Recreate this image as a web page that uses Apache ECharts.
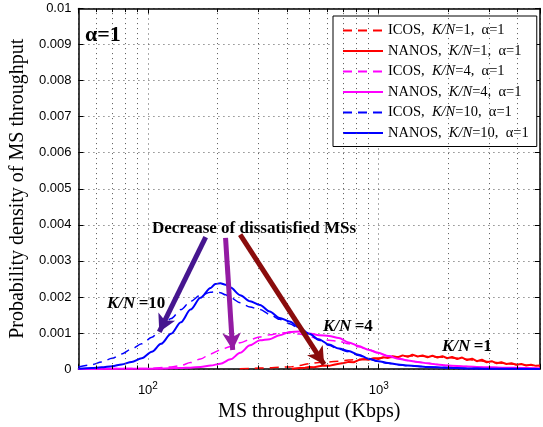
<!DOCTYPE html>
<html>
<head>
<meta charset="utf-8">
<script src="https://cdn.jsdelivr.net/npm/echarts@6/dist/echarts.min.js"></script>
<style>
  html, body { margin: 0; padding: 0; background: #fff; }
  #chart { width: 543px; height: 427px; }
</style>
</head>
<body>
<div id="chart"></div>
<script>
// Throughput samples (Kbps) and probability densities per scheme
const icos1X  = [250, 277, 306, 337, 372, 411, 453, 500, 552, 609, 672, 741, 818, 903, 996, 1099, 1213, 1338, 1476, 1628, 1797, 1982, 2188, 2415, 2661, 2937, 3243, 3578, 3946, 4355, 4808, 5000];
const icos1Y  = [0.00001, 0.00002, 0.00003, 0.00004, 0.00005, 0.00006, 0.0001, 0.00015, 0.00018, 0.0002, 0.00022, 0.00025, 0.00027, 0.00029, 0.00031, 0.00032, 0.00034, 0.00036, 0.00036, 0.00035, 0.00034, 0.00032, 0.0003, 0.00027, 0.00024, 0.00021, 0.00018, 0.00015, 0.00013, 0.00011, 0.0001, 0.00009];

const nanos1X = [420, 453, 480, 500, 525, 552, 580, 609, 640, 672, 705, 741, 780, 818, 860, 903, 950, 996, 1045, 1099, 1150, 1213, 1270, 1338, 1400, 1476, 1550, 1628, 1710, 1797, 1890, 1982, 2080, 2188, 2300, 2415, 2540, 2661, 2800, 2937, 3090, 3243, 3400, 3578, 3760, 3946, 4150, 4355, 4570, 4808, 5000];
const nanos1Y = [0.00001, 0.00003, 0.00004, 0.00006, 0.00005, 0.00008, 0.0001, 0.00009, 0.00012, 0.00015, 0.00017, 0.0002, 0.00019, 0.00025, 0.00027, 0.00026, 0.0003, 0.00028, 0.00033, 0.00031, 0.00036, 0.00033, 0.00038, 0.00034, 0.0004, 0.00035, 0.00038, 0.00033, 0.00037, 0.00032, 0.00036, 0.0003, 0.00034, 0.00028, 0.00032, 0.00025, 0.00029, 0.00022, 0.00026, 0.00019, 0.00022, 0.00016, 0.00019, 0.00014, 0.00016, 0.00012, 0.00014, 0.0001, 0.00012, 0.00009, 0.0001];

const icos4X  = [50, 100, 126, 139, 153, 169, 187, 206, 228, 251, 277, 306, 337, 372, 411, 453, 500, 552, 609, 672, 741, 818, 903, 996, 1099, 1213, 1338, 1476, 1628, 1797, 1982, 2415, 2937, 3578, 4355, 5000];
const icos4Y  = [0, 0.00002, 0.00006, 0.0001, 0.00018, 0.00028, 0.00042, 0.00053, 0.00063, 0.00073, 0.00082, 0.00089, 0.00095, 0.001, 0.00101, 0.00097, 0.0009, 0.00083, 0.0008, 0.00077, 0.0007, 0.00062, 0.00054, 0.00045, 0.00037, 0.0003, 0.00024, 0.0002, 0.00016, 0.00013, 0.0001, 0.00007, 0.00005, 0.00004, 0.00003, 0.00002];

const nanos4X = [50, 100, 139, 153, 169, 187, 206, 228, 251, 277, 306, 337, 372, 411, 453, 500, 552, 609, 672, 741, 818, 903, 996, 1099, 1213, 1338, 1476, 1628, 1797, 1982, 2415, 2937, 3578, 4355, 5000];
const nanos4Y = [0, 0.00001, 0.00003, 0.00004, 0.00006, 0.0001, 0.00015, 0.00027, 0.00045, 0.00066, 0.0008, 0.00083, 0.00094, 0.00103, 0.00104, 0.00099, 0.00094, 0.00092, 0.00086, 0.00074, 0.00064, 0.00054, 0.00045, 0.00036, 0.00029, 0.00024, 0.0002, 0.00016, 0.00013, 0.0001, 0.00007, 0.00005, 0.00004, 0.00003, 0.00002];

const icos10X  = [50, 57, 63, 70, 77, 85, 94, 104, 114, 126, 139, 153, 169, 187, 196, 206, 217, 228, 251, 277, 306, 337, 372, 411, 453, 500, 552, 609, 672, 741, 818, 903, 996, 1099, 1213, 1338, 1628, 1982, 2415, 3000, 5000];
const icos10Y  = [0.00006, 0.00012, 0.0002, 0.0003, 0.00042, 0.00056, 0.0007, 0.00088, 0.00112, 0.0014, 0.00165, 0.00188, 0.00205, 0.00213, 0.00214, 0.00212, 0.00206, 0.00198, 0.00184, 0.00172, 0.00165, 0.00152, 0.00138, 0.00126, 0.00112, 0.00096, 0.0008, 0.00066, 0.00055, 0.00048, 0.00038, 0.00028, 0.00021, 0.00016, 0.00012, 0.0001, 0.00006, 0.00004, 0.00002, 0.00001, 0];

const nanos10X = [50, 57, 63, 70, 77, 85, 94, 104, 114, 126, 139, 153, 169, 187, 196, 206, 217, 228, 251, 277, 306, 337, 372, 411, 453, 500, 552, 609, 672, 741, 818, 903, 996, 1099, 1213, 1338, 1628, 1982, 2415, 3000, 5000];
const nanos10Y = [0.00001, 0.00003, 0.00005, 0.00008, 0.00013, 0.0002, 0.0003, 0.00048, 0.0007, 0.00098, 0.0013, 0.00165, 0.00198, 0.00225, 0.00236, 0.00238, 0.00234, 0.00226, 0.00205, 0.00188, 0.00178, 0.0016, 0.00142, 0.00132, 0.00115, 0.00098, 0.00082, 0.00068, 0.00057, 0.0005, 0.0004, 0.00029, 0.00022, 0.00017, 0.00013, 0.0001, 0.00006, 0.00004, 0.00002, 0.00001, 0];

const seriesNames = ['ICOS, K/N=1, α=1', 'NANOS, K/N=1, α=1', 'ICOS, K/N=4, α=1', 'NANOS, K/N=4, α=1', 'ICOS, K/N=10, α=1', 'NANOS, K/N=10, α=1'];

// Axis ticks
const xMajorTicks = [100, 1000];
const xMinorTicks = [60, 70, 80, 90, 200, 300, 400, 500, 600, 700, 800, 900, 2000, 3000, 4000];
const yTickLabels = ['0', '0.001', '0.002', '0.003', '0.004', '0.005', '0.006', '0.007', '0.008', '0.009', '0.01'];

// Arrow endpoints [Kbps, density] for the "decrease" annotation
const arrowIndigo = [[178, 0.00366], [112, 0.00103]];
const arrowPurple = [[217, 0.00364], [233, 0.00053]];
const arrowMaroon = [[251, 0.00373], [580, 0.00013]];

const SERIF = "'Liberation Serif', 'Times New Roman', serif";
const SANS = "'Liberation Sans', Arial, Helvetica, sans-serif";

const zip = (xs, ys) => xs.map((x, i) => [x, ys[i]]);

const chart = echarts.init(document.getElementById('chart'), null, { renderer: 'canvas' });

function curve(name, xs, ys, color, dashed, smooth) {
  return {
    name: name,
    type: 'line',
    data: zip(xs, ys),
    showSymbol: false,
    symbol: 'none',
    smooth: smooth,
    smoothMonotone: 'x',
    animation: false,
    lineStyle: dashed
      ? { color: color, width: 1.5, type: [9, 6] }
      : { color: color, width: 2, type: 'solid' },
    itemStyle: { color: color },
    emphasis: { disabled: true }
  };
}

const gridLineStyle = { color: '#555', width: 1, type: [1, 4] };

const minorGridLines = xMinorTicks.map(v => ({ xAxis: v }));
const minorTickSegs = [];
xMinorTicks.forEach(v => {
  minorTickSegs.push([{ coord: [v, 0] }, { coord: [v, 0.0001] }]);
  minorTickSegs.push([{ coord: [v, 0.0099] }, { coord: [v, 0.01] }]);
});

function arrow(pts, color) {
  return [{ coord: pts[0], lineStyle: { color: color, width: 5, type: 'solid' } }, { coord: pts[1] }];
}

const kn = (txt) => ({
  text: '{i|K/N} {b|' + txt + '}', fill: '#000',
  rich: { i: { font: 'italic bold 17px ' + SERIF, fill: '#000' }, b: { font: 'bold 17px ' + SERIF, fill: '#000' } }
});

const option = {
  animation: false,
  backgroundColor: '#fff',
  grid: { left: 76, top: 8.5, width: 466, height: 370 },
  xAxis: [
    {
      type: 'log', logBase: 10, min: 50, max: 5000,
      position: 'bottom',
      name: 'MS throughput (Kbps)', nameLocation: 'middle', nameGap: 24,
      nameTextStyle: { fontFamily: SERIF, fontSize: 20, color: '#000' },
      axisLine: { show: true, onZero: false, lineStyle: { color: '#000', width: 1.5 } },
      axisTick: { show: true, inside: true, length: 5, lineStyle: { color: '#000', width: 1 } },
      axisLabel: {
        color: '#000', fontFamily: SANS, fontSize: 13, margin: 12,
        formatter: v => {
          const p = Math.round(Math.log10(v));
          return xMajorTicks.some(t => Math.abs(t - v) < 1e-6 * t) ? '10{sup|' + p + '}' : '';
        },
        rich: { sup: { fontFamily: SANS, fontSize: 10, verticalAlign: 'top', padding: [0, 0, 9, 0], color: '#000' } }
      },
      splitLine: { show: true, lineStyle: gridLineStyle },
      minorTick: { show: false }
    },
    {
      type: 'log', logBase: 10, min: 50, max: 5000,
      position: 'top',
      axisLine: { show: true, onZero: false, lineStyle: { color: '#000', width: 1.5 } },
      axisTick: { show: true, inside: true, length: 5, lineStyle: { color: '#000', width: 1 } },
      axisLabel: { show: false },
      splitLine: { show: false }
    }
  ],
  yAxis: [
    {
      type: 'value', min: 0, max: 0.01, interval: 0.001,
      position: 'left',
      name: 'Probability density of MS throughput', nameLocation: 'middle', nameGap: 50,
      nameTextStyle: { fontFamily: SERIF, fontSize: 20, color: '#000' },
      axisLine: { show: true, onZero: false, lineStyle: { color: '#000', width: 1.5 } },
      axisTick: { show: true, inside: true, length: 5, lineStyle: { color: '#000', width: 1 } },
      axisLabel: {
        color: '#000', fontFamily: SANS, fontSize: 13, margin: 7,
        formatter: v => yTickLabels[Math.round(v / 0.001)] || ''
      },
      splitLine: { show: true, lineStyle: gridLineStyle }
    },
    {
      type: 'value', min: 0, max: 0.01, interval: 0.001,
      position: 'right',
      axisLine: { show: true, onZero: false, lineStyle: { color: '#000', width: 1.5 } },
      axisTick: { show: true, inside: true, length: 5, lineStyle: { color: '#000', width: 1 } },
      axisLabel: { show: false },
      splitLine: { show: false }
    }
  ],
  legend: {
    data: seriesNames,
    orient: 'vertical',
    left: 333, top: 16,
    padding: [7, 8, 6, 9],
    itemWidth: 40, itemHeight: 14, itemGap: 5.5,
    itemStyle: { opacity: 0 },
    backgroundColor: '#fff',
    borderColor: '#000', borderWidth: 1, borderRadius: 0,
    selectedMode: false,
    formatter: name => name.replace(/, /g, ',  ').replace('K/N', '{i|K/N}'),
    textStyle: {
      fontFamily: SERIF, fontSize: 14.5, color: '#000',
      rich: { i: { fontFamily: SERIF, fontSize: 14.5, fontStyle: 'italic', color: '#000' } }
    }
  },
  series: [
    {
      name: 'grid', type: 'line', data: [], silent: true,
      markLine: {
        silent: true, symbol: 'none', animation: false,
        label: { show: false },
        lineStyle: gridLineStyle,
        data: minorGridLines
      }
    },
    {
      name: 'minorTicks', type: 'line', data: [], silent: true,
      markLine: {
        silent: true, symbol: 'none', animation: false,
        label: { show: false },
        lineStyle: { color: '#000', width: 1, type: 'solid' },
        data: minorTickSegs
      }
    },
    curve(seriesNames[0], icos1X, icos1Y, '#ff0000', true, 0.3),
    curve(seriesNames[1], nanos1X, nanos1Y, '#ff0000', false, false),
    curve(seriesNames[2], icos4X, icos4Y, '#ff00ff', true, 0.3),
    curve(seriesNames[3], nanos4X, nanos4Y, '#ff00ff', false, 0.3),
    curve(seriesNames[4], icos10X, icos10Y, '#0000ff', true, 0.3),
    curve(seriesNames[5], nanos10X, nanos10Y, '#0000ff', false, 0.3),
    {
      name: 'arrows', type: 'line', data: [], silent: true, z: 10,
      markLine: {
        silent: true, animation: false,
        symbol: ['none', 'arrow'], symbolSize: [14, 17],
        label: { show: false },
        emphasis: { disabled: true },
        data: [
          arrow(arrowIndigo, '#46168f'),
          arrow(arrowPurple, '#931ba3'),
          arrow(arrowMaroon, '#8a0c0c')
        ]
      }
    }
  ],
  graphic: [
    {
      type: 'text', left: 85, top: 24, silent: true,
      style: { text: 'α=1', font: 'bold 22px ' + SERIF, fill: '#000' }
    },
    {
      type: 'text', left: 152, top: 220, silent: true,
      style: { text: 'Decrease of dissatisfied MSs', font: 'bold 17px ' + SERIF, fill: '#000' }
    },
    { type: 'text', left: 107, top: 295, silent: true, style: kn('=10') },
    { type: 'text', left: 323, top: 318, silent: true, style: kn('=4') },
    { type: 'text', left: 442, top: 338, silent: true, style: kn('=1') }
  ]
};

chart.setOption(option);
</script>
</body>
</html>
